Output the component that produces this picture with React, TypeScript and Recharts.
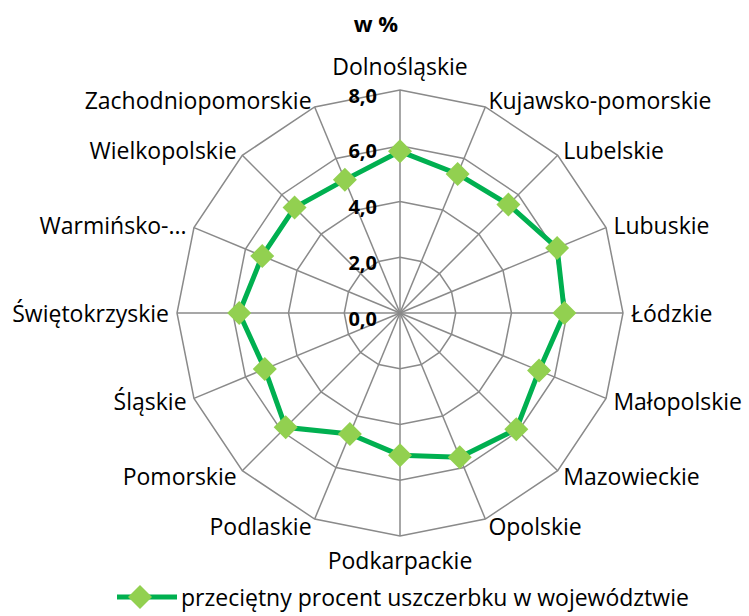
import { RadarChart, Radar, PolarGrid, PolarAngleAxis, PolarRadiusAxis, Legend } from "recharts";

const regions = [
  "Dolnośląskie",
  "Kujawsko-pomorskie",
  "Lubelskie",
  "Lubuskie",
  "Łódzkie",
  "Małopolskie",
  "Mazowieckie",
  "Opolskie",
  "Podkarpackie",
  "Podlaskie",
  "Pomorskie",
  "Śląskie",
  "Świętokrzyskie",
  "Warmińsko-...",
  "Wielkopolskie",
  "Zachodniopomorskie",
];

const avgPercent = [5.8, 5.4, 5.5, 6.1, 5.9, 5.4, 5.9, 5.6, 5.1, 4.7, 5.8, 5.25, 5.77, 5.35, 5.35, 5.17];

const radiusTicks = [0, 2, 4, 6, 8];

const seriesName = "przeciętny procent uszczerbku w województwie";

const data = regions.map((name, i) => ({ name, value: avgPercent[i] }));

const FONT = "'Open Sans', sans-serif";

function AngleTick(props: any) {
  const { x, y, payload } = props;
  const rad = (payload.coordinate * Math.PI) / 180;
  const dx = Math.cos(rad);
  const dy = -Math.sin(rad);
  let anchor = "middle";
  let ty = y;
  if (Math.abs(dx) < 0.01) {
    ty = dy < 0 ? y - 16 : y + 16;
  } else {
    anchor = dx > 0 ? "start" : "end";
  }
  return (
    <text x={x} y={ty} textAnchor={anchor} dominantBaseline="central" fill="#000" fontSize={23} fontFamily={FONT}>
      {payload.value}
    </text>
  );
}

function RadiusTick(props: any) {
  const { x, y, payload } = props;
  return (
    <text x={x - 23} y={y + 5} textAnchor="end" dominantBaseline="central" fill="#000" fontSize={20} fontWeight="bold" fontFamily={FONT}>
      {Number(payload.value).toFixed(1).replace(".", ",")}
    </text>
  );
}

function Diamond(props: any) {
  const { cx, cy } = props;
  const s = 12;
  return <path d={`M${cx},${cy - s}L${cx + s},${cy}L${cx},${cy + s}L${cx - s},${cy}Z`} fill="#92D050" />;
}

function LegendContent() {
  return (
    <svg width={749} height={30}>
      <line x1={117} y1={15} x2={177} y2={15} stroke="#00B050" strokeWidth={5} />
      <path d="M140,3L152,15L140,27L128,15Z" fill="#92D050" />
      <text x={181} y={15} dominantBaseline="central" fontSize={23} fontFamily={FONT} fill="#000">
        {seriesName}
      </text>
    </svg>
  );
}

export default function App() {
  return (
    <div style={{ position: "absolute", left: 0, top: 0, width: 749, height: 616, background: "#fff" }}>
      <div
        style={{
          position: "absolute",
          left: 326,
          top: 8,
          width: 100,
          textAlign: "center",
          fontFamily: FONT,
          fontWeight: "bold",
          fontSize: 22,
          zIndex: 2,
        }}
      >
        w %
      </div>
      <RadarChart width={749} height={616} data={data} cx={400} cy={313} outerRadius={223} margin={{ top: 0, right: 0, bottom: 0, left: 0 }}>
        <PolarGrid gridType="polygon" stroke="#8a8a8a" strokeWidth={1.5} />
        <PolarAngleAxis dataKey="name" tick={<AngleTick />} tickLine={false} axisLine={false} />
        <PolarRadiusAxis
          angle={90}
          domain={[0, 8]}
          ticks={radiusTicks}
          tickCount={5}
          axisLine={false}
          tick={<RadiusTick />}
        />
        <Radar
          name={seriesName}
          dataKey="value"
          stroke="#00B050"
          strokeWidth={5}
          fill="none"
          fillOpacity={0}
          dot={<Diamond />}
          isAnimationActive={false}
        />
        <Legend
          verticalAlign="bottom"
          content={<LegendContent />}
          wrapperStyle={{ left: 0, bottom: 0, width: 749 }}
        />
      </RadarChart>
    </div>
  );
}
